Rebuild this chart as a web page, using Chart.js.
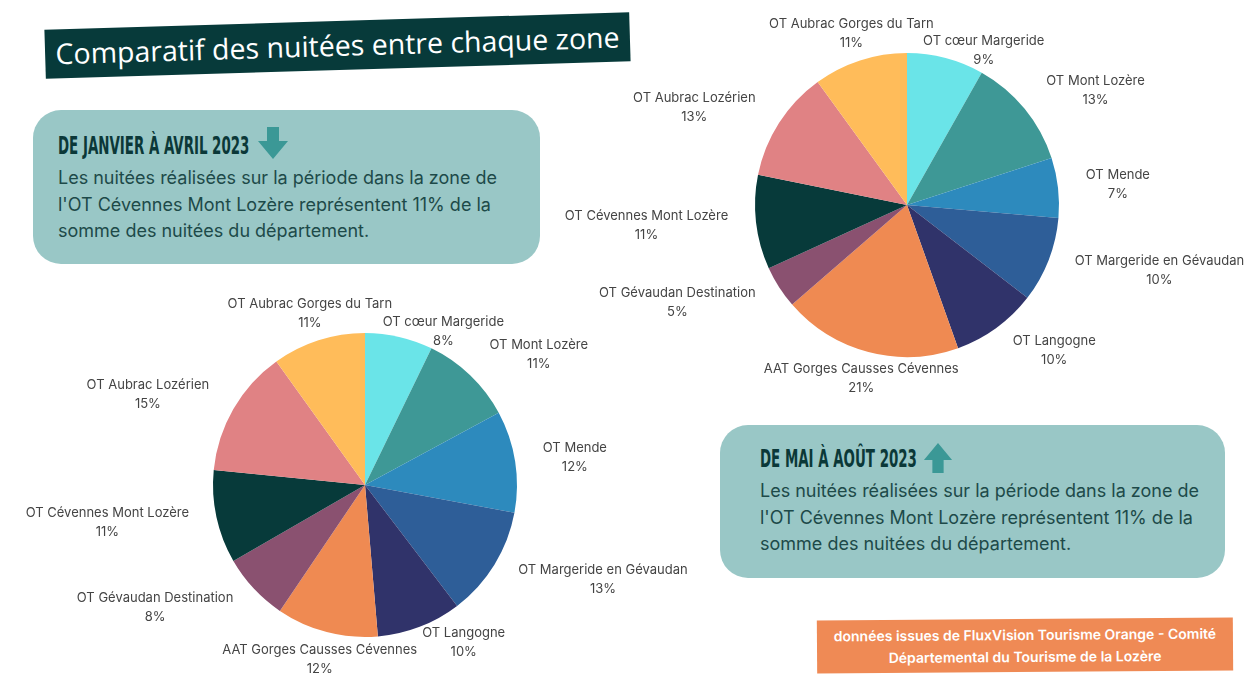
<!DOCTYPE html>
<html lang="fr">

<head>
    <meta charset="UTF-8">
    <title>Comparatif des nuitées entre chaque zone</title>
    <script src="https://cdn.jsdelivr.net/npm/chart.js"></script>
    <style>
        body {
            margin: 0;
            width: 1253px;
            height: 674px;
            background: #fff;
            position: relative;
            overflow: hidden;
            font-family: Inter, "Noto Sans", sans-serif;
        }
        .title {
            position: absolute;
            left: 45px;
            top: 21px;
            width: 585px;
            height: 49px;
            background: #073a3a;
            color: #fff;
            transform: rotate(-1.7deg);
            font-family: "Open Sans", sans-serif;
            font-size: 28.5px;
            line-height: 49px;
            text-align: center;
        }
        .info {
            position: absolute;
            background: #99c7c6;
            border-radius: 28px;
            color: #1d4a49;
        }
        .info h3 {
            position: absolute;
            margin: 0;
            white-space: nowrap;
            font-family: "DejaVu Sans Condensed", sans-serif;
            font-weight: bold;
            font-size: 24px;
            line-height: 24px;
            color: #0b3838;
            transform: scaleX(0.62);
            transform-origin: left top;
        }
        .info svg { position: absolute; }
        .info p {
            position: absolute;
            margin: 0;
            white-space: nowrap;
            font-size: 18px;
            line-height: 26.5px;
        }
        #box1 { left: 33px; top: 110px; width: 507px; height: 154px; }
        #box1 h3 { left: 25px; top: 24px; }
        #box1 svg { left: 225px; top: 17px; }
        #box1 p { left: 25px; top: 55px; }
        #box2 { left: 720px; top: 425px; width: 505px; height: 153px; }
        #box2 h3 { left: 40px; top: 22px; }
        #box2 svg { left: 203px; top: 18px; }
        #box2 p { left: 40px; top: 53px; }
        .source {
            position: absolute;
            left: 817px;
            top: 619px;
            width: 416px;
            height: 53px;
            background: #ef8a55;
            color: #fff;
            font-size: 14px;
            font-weight: 600;
            text-align: center;
            line-height: 22px;
            padding-top: 5px;
            box-sizing: border-box;
            transform: rotate(-0.4deg);
        }
        canvas { position: absolute; }
        #pieJan { left: 0; top: 280px; }
        #pieMai { left: 540px; top: 0; }
    </style>
</head>

<body>

    <div class="title">Comparatif des nuitées entre chaque zone</div>

    <div class="info" id="box1">
        <h3>DE JANVIER À AVRIL 2023</h3>
        <svg width="30" height="32" viewBox="0 0 30 32"><path d="M9 0 H21 V14 H30 L15 32 L0 14 H9 Z" fill="#3b9896"/></svg>
        <p>Les nuitées réalisées sur la période dans la zone de<br>l'OT Cévennes Mont Lozère représentent 11% de la<br>somme des nuitées du département.</p>
    </div>

    <div class="info" id="box2">
        <h3>DE MAI À AOÛT 2023</h3>
        <svg width="30" height="30" viewBox="0 0 30 32"><path d="M9 32 H21 V18 H30 L15 0 L0 18 H9 Z" fill="#3b9896"/></svg>
        <p>Les nuitées réalisées sur la période dans la zone de<br>l'OT Cévennes Mont Lozère représentent 11% de la<br>somme des nuitées du département.</p>
    </div>

    <div class="source">données issues de FluxVision Tourisme Orange - Comité<br>Départemental du Tourisme de la Lozère</div>

    <canvas id="pieJan" width="720" height="394"></canvas>
    <canvas id="pieMai" width="713" height="420"></canvas>

    <script>
        // zones, in the order of the slices (clockwise from the top)
        const zones = ['OT cœur Margeride', 'OT Mont Lozère', 'OT Mende', 'OT Margeride en Gévaudan',
            'OT Langogne', 'AAT Gorges Causses Cévennes', 'OT Gévaudan Destination',
            'OT Cévennes Mont Lozère', 'OT Aubrac Lozérien', 'OT Aubrac Gorges du Tarn'];

        // share of nights (%) as printed on the labels
        const janAvr = [8, 11, 12, 13, 10, 12, 8, 11, 15, 11];
        const maiAou = [9, 13, 7, 10, 10, 21, 5, 11, 13, 11];

        const zoneColors = ['#6ae4e8', '#3e9896', '#2d8abd', '#2e5e98', '#30336a',
            '#ef8a52', '#8a5170', '#073a3a', '#e08284', '#ffbc5a'];

        // small label shifts where labels would collide [dx, dy]
        const nudgeJan = [[38, 22], [0, 0], [0, 0], [0, 0], [34, -10], [0, 0], [0, 0], [0, 0], [0, 0], [0, 0]];
        const nudgeMai = [[31, 20], [0, 0], [0, 0], [0, 0], [0, 0], [0, 0], [0, 0], [0, 0], [0, 0], [0, 0]];

        // labels outside the slices: name + percentage
        const outsideLabels = {
            id: 'outsideLabels',
            afterDatasetsDraw(chart, args, opts) {
                const ctx = chart.ctx;
                const ds = chart.data.datasets[0];
                ctx.save();
                ctx.font = '13px Inter, "Noto Sans", sans-serif';
                ctx.fillStyle = '#444';
                ctx.textBaseline = 'middle';
                ctx.textAlign = 'center';
                chart.getDatasetMeta(0).data.forEach((arc, i) => {
                    const p = arc.getProps(['x', 'y', 'startAngle', 'endAngle', 'outerRadius'], true);
                    const mid = (p.startAngle + p.endAngle) / 2;
                    const dx = Math.cos(mid), dy = Math.sin(mid);
                    const r = p.outerRadius * 1.184;
                    let ax = p.x + r * dx, ay = p.y + r * dy;
                    const l1 = chart.data.labels[i];
                    const l2 = ds.data[i] + '%';
                    const w = Math.max(ctx.measureText(l1).width, ctx.measureText(l2).width);
                    let cx = ax;
                    if (dx > 0.4) cx = ax + w / 2;
                    else if (dx < -0.4) cx = ax - w / 2;
                    const n = opts.nudge[i];
                    cx += n[0];
                    const cy = ay + n[1];
                    ctx.fillText(l1, cx, cy - 9.5);
                    ctx.fillText(l2, cx, cy + 9.5);
                });
                ctx.restore();
            }
        };

        function makePie(id, values, padding, nudge) {
            return new Chart(document.getElementById(id), {
                type: 'pie',
                data: {
                    labels: zones,
                    datasets: [{
                        data: values,
                        backgroundColor: zoneColors,
                        borderWidth: 0
                    }]
                },
                options: {
                    responsive: false,
                    animation: false,
                    layout: { padding: padding },
                    plugins: {
                        legend: { display: false },
                        tooltip: { enabled: false },
                        outsideLabels: { nudge: nudge }
                    }
                },
                plugins: [outsideLabels]
            });
        }

        makePie('pieJan', janAvr, { left: 213, right: 203, top: 53, bottom: 37 }, nudgeJan);
        makePie('pieMai', maiAou, { left: 215, right: 194, top: 53, bottom: 63 }, nudgeMai);
    </script>

</body>

</html>
